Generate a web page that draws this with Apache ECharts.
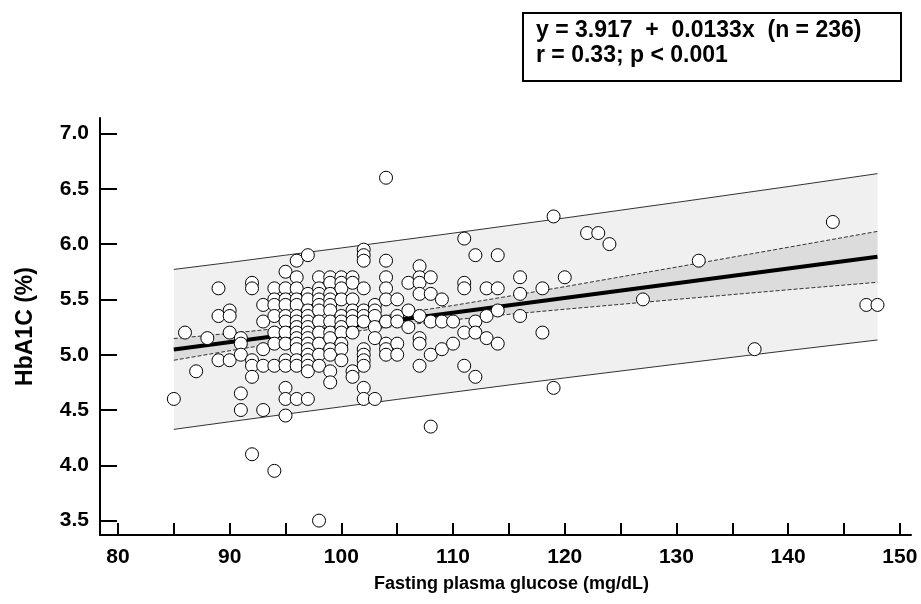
<!DOCTYPE html>
<html>
<head>
<meta charset="utf-8">
<script src="https://cdn.jsdelivr.net/npm/echarts@6/dist/echarts.min.js"></script>
<style>
  html, body { margin: 0; padding: 0; background: #fff; }
  #chart { width: 921px; height: 604px; }
</style>
</head>
<body>
<div id="chart"></div>
<script>
// glucose (mg/dL), HbA1C (%), one x column per row
var points = [
  [85, 4.6], [86, 5.2], [87, 4.85], [88, 5.15],
  [89, 5.6], [89, 5.35], [89, 4.95],
  [90, 5.4], [90, 5.35], [90, 5.2], [90, 4.95],
  [91, 5.15], [91, 5.1], [91, 5.0], [91, 4.65], [91, 4.5],
  [92, 5.65], [92, 5.6], [92, 4.95], [92, 4.9], [92, 4.8], [92, 4.1],
  [93, 5.45], [93, 5.3], [93, 5.05], [93, 4.9], [93, 4.5],
  [94, 5.6], [94, 5.5], [94, 5.45], [94, 5.35], [94, 5.2], [94, 5.1], [94, 4.9], [94, 3.95],
  [95, 5.75], [95, 5.6], [95, 5.5], [95, 5.45], [95, 5.35], [95, 5.3], [95, 5.2], [95, 5.1], [95, 4.95], [95, 4.9], [95, 4.7], [95, 4.6], [95, 4.45],
  [96, 5.85], [96, 5.7], [96, 5.6], [96, 5.5], [96, 5.45], [96, 5.35], [96, 5.3], [96, 5.25], [96, 5.2], [96, 5.15], [96, 5.1], [96, 5.05], [96, 4.95], [96, 4.9], [96, 4.6],
  [97, 5.9], [97, 5.55], [97, 5.5], [97, 5.4], [97, 5.35], [97, 5.3], [97, 5.25], [97, 5.2], [97, 5.15], [97, 5.1], [97, 5.05], [97, 5.0], [97, 4.95], [97, 4.9], [97, 4.85], [97, 4.6],
  [98, 5.7], [98, 5.6], [98, 5.55], [98, 5.5], [98, 5.45], [98, 5.4], [98, 5.3], [98, 5.2], [98, 5.1], [98, 5.0], [98, 4.9], [98, 3.5],
  [99, 5.7], [99, 5.65], [99, 5.55], [99, 5.5], [99, 5.45], [99, 5.4], [99, 5.3], [99, 5.2], [99, 5.15], [99, 5.05], [99, 5.0], [99, 4.85], [99, 4.75],
  [100, 5.7], [100, 5.65], [100, 5.6], [100, 5.5], [100, 5.35], [100, 5.3], [100, 5.25], [100, 5.2], [100, 5.1], [100, 5.05], [100, 4.95],
  [101, 5.7], [101, 5.65], [101, 5.5], [101, 5.4], [101, 5.35], [101, 5.3], [101, 5.2], [101, 4.85], [101, 4.8],
  [102, 5.95], [102, 5.9], [102, 5.85], [102, 5.6], [102, 5.4], [102, 5.35], [102, 5.3], [102, 5.05], [102, 5.0], [102, 4.95], [102, 4.9], [102, 4.7], [102, 4.6],
  [103, 5.45], [103, 5.4], [103, 5.35], [103, 5.25], [103, 5.15], [103, 4.6],
  [104, 6.6], [104, 5.85], [104, 5.7], [104, 5.6], [104, 5.5], [104, 5.3], [104, 5.1], [104, 5.05], [104, 5.0],
  [105, 5.5], [105, 5.35], [105, 5.3], [105, 5.1], [105, 5.0],
  [106, 5.65], [106, 5.4], [106, 5.25],
  [107, 5.8], [107, 5.7], [107, 5.65], [107, 5.55], [107, 5.35], [107, 5.15], [107, 5.1], [107, 4.9],
  [108, 5.7], [108, 5.55], [108, 5.3], [108, 5.0], [108, 4.35],
  [109, 5.5], [109, 5.3], [109, 5.05],
  [110, 5.3], [110, 5.1],
  [111, 6.05], [111, 5.65], [111, 5.6], [111, 5.2], [111, 4.9],
  [112, 5.9], [112, 5.3], [112, 5.2], [112, 4.8],
  [113, 5.6], [113, 5.35], [113, 5.15],
  [114, 5.9], [114, 5.6], [114, 5.4], [114, 5.1],
  [116, 5.7], [116, 5.55], [116, 5.35],
  [118, 5.6], [118, 5.2],
  [119, 6.25], [119, 4.7],
  [120, 5.7], [122, 6.1], [123, 6.1], [124, 6.0], [127, 5.5],
  [132, 5.85], [137, 5.05], [144, 6.2], [147, 5.45], [148, 5.45]
];

// regression line y = 3.917 + 0.0133x, drawn from x = 85 to 148
var fitX = [85, 148];
var fitY = [5.048, 5.885];

// bands
var bandX = [85, 90, 95, 100, 105, 110, 115, 120, 130, 140, 148];
var predUpper = [5.771, 5.834, 5.900, 5.965, 6.032, 6.099, 6.168, 6.236, 6.377, 6.520, 6.637];
var predLower = [4.325, 4.394, 4.462, 4.529, 4.596, 4.661, 4.726, 4.790, 4.915, 5.038, 5.133];
var confUpper = [5.146, 5.193, 5.244, 5.300, 5.368, 5.445, 5.529, 5.615, 5.792, 5.971, 6.115];
var confLower = [4.950, 5.036, 5.118, 5.194, 5.260, 5.315, 5.365, 5.411, 5.500, 5.587, 5.655];

var xLabels = [80, 90, 100, 110, 120, 130, 140, 150];
var xTicks = [80, 85, 90, 95, 100, 105, 110, 115, 120, 125, 130, 135, 140, 145, 150];
var yTicks = [3.5, 4.0, 4.5, 5.0, 5.5, 6.0, 6.5, 7.0];

var FONT = '"Liberation Sans", Arial, sans-serif';

function pairs(xs, ys) {
  return xs.map(function (x, i) { return [x, ys[i]]; });
}

function band(upper, lower, color) {
  return {
    type: 'custom',
    silent: true,
    z: 1,
    data: [[bandX[0], upper[0]]],
    renderItem: function (params, api) {
      var pts = [];
      for (var i = 0; i < bandX.length; i++) pts.push(api.coord([bandX[i], upper[i]]));
      for (var j = bandX.length - 1; j >= 0; j--) pts.push(api.coord([bandX[j], lower[j]]));
      return { type: 'polygon', shape: { points: pts }, style: { fill: color, stroke: null } };
    }
  };
}

function bandLine(values, dashed) {
  return {
    type: 'line',
    silent: true,
    z: 2,
    symbol: 'none',
    data: pairs(bandX, values),
    lineStyle: { color: '#333', width: 1, type: dashed ? [4, 2] : 'solid' }
  };
}

var chart = echarts.init(document.getElementById('chart'));

var option = {
  animation: false,
  backgroundColor: '#fff',
  grid: { left: 100, right: 10, top: 118, bottom: 69, outerBoundsMode: 'none' },
  xAxis: {
    type: 'value',
    min: 78.39,
    max: 151,
    name: 'Fasting plasma glucose (mg/dL)',
    nameLocation: 'middle',
    nameGap: 40,
    nameTextStyle: { fontFamily: FONT, fontWeight: 'bold', fontSize: 18, color: '#000', padding: [0, 0, 0, 12] },
    axisLine: { onZero: false, lineStyle: { color: '#000', width: 2 } },
    axisTick: { inside: true, length: 12, customValues: xTicks, lineStyle: { color: '#000', width: 2 } },
    axisLabel: {
      customValues: xLabels, margin: 12,
      fontFamily: FONT, fontWeight: 'bold', fontSize: 21, color: '#000'
    },
    splitLine: { show: false }
  },
  yAxis: {
    type: 'value',
    min: 3.37,
    max: 7.14,
    name: 'HbA1C (%)',
    nameLocation: 'middle',
    nameGap: 63,
    nameTextStyle: { fontFamily: FONT, fontWeight: 'bold', fontSize: 23, color: '#000' },
    axisLine: { onZero: false, lineStyle: { color: '#000', width: 2 } },
    axisTick: { inside: true, length: 17, customValues: yTicks, lineStyle: { color: '#000', width: 2 } },
    axisLabel: {
      customValues: yTicks, margin: 11,
      fontFamily: FONT, fontWeight: 'bold', fontSize: 21, color: '#000',
      formatter: function (v) { return v.toFixed(1); }
    },
    splitLine: { show: false }
  },
  graphic: [
    {
      type: 'group', left: 522, top: 12,
      children: [
        { type: 'rect', shape: { x: 0, y: 0, width: 378, height: 68 }, style: { fill: '#fff', stroke: '#000', lineWidth: 2 } },
        { type: 'text', x: 13, y: 6, style: { text: 'y = 3.917  +  0.0133x  (n = 236)', font: 'bold 23px ' + FONT, fill: '#000' } },
        { type: 'text', x: 13, y: 31, style: { text: 'r = 0.33; p < 0.001', font: 'bold 23px ' + FONT, fill: '#000' } }
      ]
    }
  ],
  series: [
    band(predUpper, predLower, '#f0f0f0'),
    band(confUpper, confLower, '#dcdcdc'),
    bandLine(predUpper, false),
    bandLine(predLower, false),
    bandLine(confUpper, true),
    bandLine(confLower, true),
    {
      type: 'line',
      silent: true,
      z: 3,
      symbol: 'none',
      data: pairs(fitX, fitY),
      lineStyle: { color: '#000', width: 4 }
    },
    {
      type: 'scatter',
      z: 4,
      symbol: 'circle',
      symbolSize: 13,
      data: points,
      itemStyle: { color: '#fff', borderColor: '#000', borderWidth: 1, opacity: 1 }
    }
  ]
};

chart.setOption(option);
window.onresize = function () { chart.resize(); };
</script>
</body>
</html>
